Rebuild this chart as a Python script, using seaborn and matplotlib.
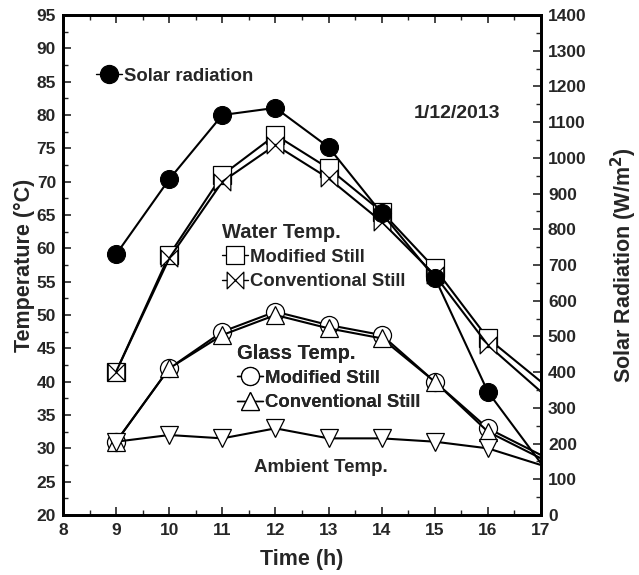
import numpy as np
import pandas as pd
import matplotlib
matplotlib.use("Agg")
import matplotlib.pyplot as plt
from matplotlib.path import Path
from matplotlib.lines import Line2D
import seaborn as sns

# ---- data ----
hours = [9, 10, 11, 12, 13, 14, 15, 16, 17]
water_modified = [41.5, 59.0, 71.0, 77.0, 72.0, 65.5, 57.0, 46.5, 40.0]
water_conventional = [41.5, 58.5, 70.0, 75.5, 70.5, 64.0, 56.0, 45.5, 38.5]
glass_modified = [31.0, 42.0, 47.5, 50.5, 48.5, 47.0, 40.0, 33.0, 29.0]
glass_conventional = [31.0, 42.0, 47.0, 50.0, 48.0, 46.5, 40.0, 32.5, 28.5]
ambient = [31.0, 32.0, 31.5, 33.0, 31.5, 31.5, 31.0, 30.0, 27.5]
solar = [730, 940, 1120, 1140, 1030, 845, 665, 345, 145]
x_ticks = [8, 9, 10, 11, 12, 13, 14, 15, 16, 17]
temp_ticks = list(range(20, 100, 5))
solar_ticks = list(range(0, 1500, 100))

sns.set_theme(style="ticks")
plt.rcParams["font.family"] = ["Liberation Sans", "DejaVu Sans"]
plt.rcParams["font.weight"] = "bold"
plt.rcParams["axes.labelweight"] = "bold"

fig = plt.figure(figsize=(6.39, 5.75), dpi=100)
ax = fig.add_axes([0.0986, 0.1043, 0.748, 0.8696])
ax2 = ax.twinx()

bowtie = Path([(-1, -1), (1, 1), (1, -1), (-1, 1), (-1, -1)],
              [Path.MOVETO, Path.LINETO, Path.LINETO, Path.LINETO, Path.CLOSEPOLY])

ms = 13
common = dict(color="black", lw=1.5, markevery=list(range(8)),
              markerfacecolor="white", markeredgecolor="black",
              markeredgewidth=0.9, ms=ms, legend=False)

df = pd.DataFrame({"t": hours, "wm": water_modified, "wc": water_conventional,
                   "gm": glass_modified, "gc": glass_conventional,
                   "amb": ambient, "sol": solar})

sns.lineplot(data=df, x="t", y="wm", ax=ax, marker="s", **common)
sns.lineplot(data=df, x="t", y="wc", ax=ax, marker=bowtie, **{**common, "ms": 12})
sns.lineplot(data=df, x="t", y="gm", ax=ax, marker="o", **common)
sns.lineplot(data=df, x="t", y="gc", ax=ax, marker="^", **common)
sns.lineplot(data=df, x="t", y="amb", ax=ax, marker="v", **common)
sns.lineplot(data=df, x="t", y="sol", ax=ax2, marker="o", color="black", lw=1.5,
             markevery=list(range(8)), markerfacecolor="black",
             markeredgecolor="black", ms=ms, legend=False)

# axes
ax.set_xlim(8, 17)
ax.set_ylim(20, 95)
ax2.set_ylim(0, 1400)
ax.set_xticks(x_ticks)
ax.set_yticks(temp_ticks)
ax2.set_yticks(solar_ticks)
ax.set_xticks(np.arange(8.5, 17, 1), minor=True)
ax.set_yticks(np.arange(22.5, 95, 5), minor=True)
ax2.set_yticks(np.arange(50, 1400, 100), minor=True)

tick_fs = 12.5
ax.tick_params(axis="x", which="both", direction="in", top=True, labelsize=tick_fs, pad=6)
ax.tick_params(axis="y", which="both", direction="in", labelsize=tick_fs, pad=5)
ax.tick_params(which="major", length=6, width=1.2)
ax.tick_params(which="minor", length=3.5, width=1.0)
ax2.tick_params(axis="y", which="both", direction="in", labelsize=tick_fs, pad=5)
ax2.tick_params(which="major", length=6, width=1.2)
ax2.tick_params(which="minor", length=3.5, width=1.0)
for a in (ax, ax2):
    for lab in a.get_xticklabels() + a.get_yticklabels():
        lab.set_fontweight("bold")
    for s in a.spines.values():
        s.set_linewidth(2)
        s.set_color("black")

ax.set_xlabel("Time (h)", fontsize=15.5, fontweight="bold", labelpad=8)
ax.set_ylabel("Temperature (\u00b0C)", fontsize=15.5, fontweight="bold", labelpad=1)
ax2.set_ylabel("Solar Radiation (W/m$^\\mathbf{2}$)", fontsize=15.5, fontweight="bold", labelpad=16)

# legends
leg_fs = 13.3
title_fs = 14.5
def handle(marker, fill="white", size=ms):
    return Line2D([], [], color="black", lw=1.0, marker=marker, ms=size,
                  markerfacecolor=fill, markeredgecolor="black", markeredgewidth=0.9)

lkw = dict(frameon=False, handlelength=1.4, handletextpad=0.1,
           borderpad=0, borderaxespad=0, labelspacing=0.4, loc="upper left",
           prop={"weight": "bold", "size": leg_fs})

leg1 = ax.legend([handle("o", "black")], ["Solar radiation"],
                 bbox_to_anchor=(0.069, 0.895), **lkw)
ax.add_artist(leg1)
leg2 = ax.legend([handle("s"), handle(bowtie, size=12)], ["Modified Still", "Conventional Still"],
                 title="Water Temp.", title_fontproperties={"weight": "bold", "size": title_fs},
                 alignment="left", bbox_to_anchor=(0.333, 0.585), **lkw)
ax.add_artist(leg2)
leg3 = ax.legend([handle("o"), handle("^")], ["Modified Still", "Conventional Still"],
                 title="Glass Temp.", title_fontproperties={"weight": "bold", "size": title_fs},
                 alignment="left", bbox_to_anchor=(0.364, 0.343), **lkw)
ax.add_artist(leg3)

ax.text(0.54, 0.096, "Ambient Temp.", transform=ax.transAxes, ha="center", va="center",
        fontsize=13.5, fontweight="bold")
ax.text(0.824, 0.804, "1/12/2013", transform=ax.transAxes, ha="center", va="center",
        fontsize=14, fontweight="bold")

fig.savefig("out.png", dpi=100)
